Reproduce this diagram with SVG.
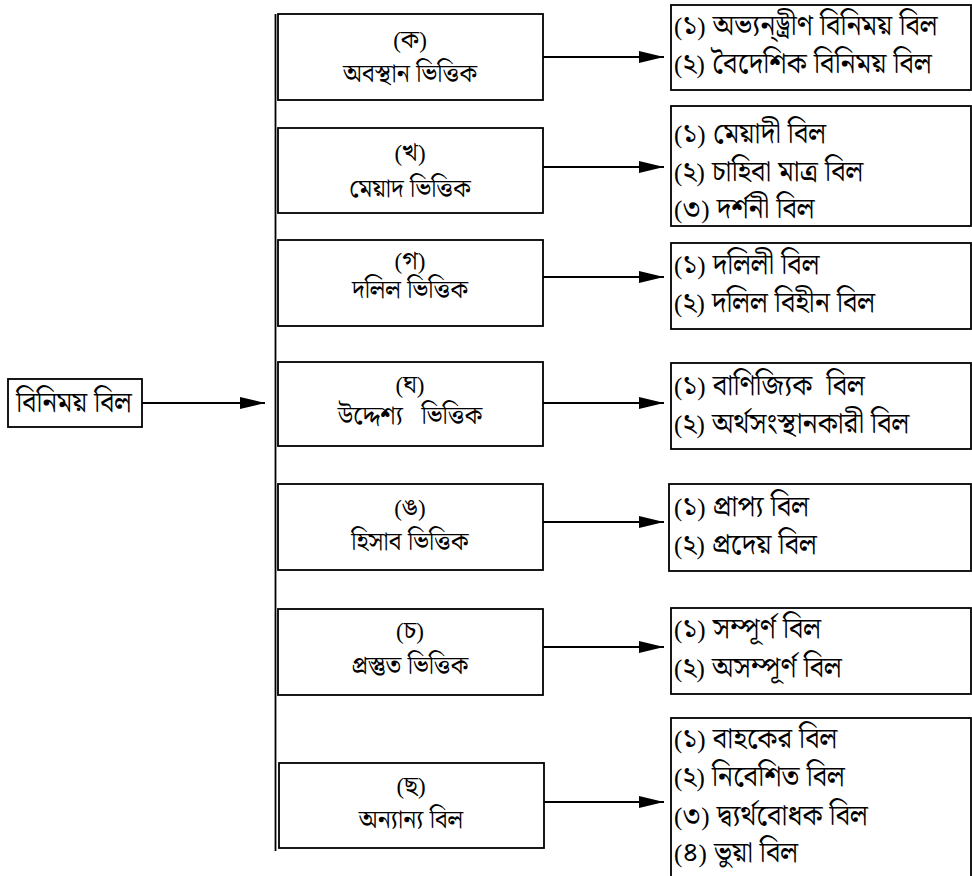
<svg xmlns="http://www.w3.org/2000/svg" width="972" height="876" viewBox="0 0 972 876">
<style>
.box{fill:#fff;stroke:#000;stroke-width:1.8}
.ln{stroke:#000;stroke-width:1.8;fill:none}
.t{font-family:"Liberation Serif","Noto Serif Bengali","Noto Sans Bengali","Lohit Bengali",serif;fill:#000}
.c{font-size:25px;text-anchor:middle}
.h{font-size:26px;text-anchor:middle}
.q{font-size:23px}
.r{font-size:28.5px}
.p{font-size:25px}
.l{font-size:28px;text-anchor:middle}
</style>
<defs>
<marker id="ah" markerUnits="userSpaceOnUse" markerWidth="26" markerHeight="12" refX="25" refY="6" orient="auto">
<path d="M0,0 L25,6 L0,12 z" fill="#000"/>
</marker>
</defs>
<rect width="972" height="876" fill="#fff"/>
<g id="connectors">
<line class="ln" x1="275.5" y1="14" x2="275.5" y2="851" stroke-width="2.4"/>
<line class="ln" x1="142" y1="403" x2="265" y2="403" marker-end="url(#ah)"/>
<line class="ln" x1="543" y1="57" x2="664" y2="57" marker-end="url(#ah)"/>
<line class="ln" x1="543" y1="167" x2="664" y2="167" marker-end="url(#ah)"/>
<line class="ln" x1="543" y1="277" x2="664" y2="277" marker-end="url(#ah)"/>
<line class="ln" x1="543" y1="403" x2="664" y2="403" marker-end="url(#ah)"/>
<line class="ln" x1="543" y1="522" x2="664" y2="522" marker-end="url(#ah)"/>
<line class="ln" x1="543" y1="647" x2="664" y2="647" marker-end="url(#ah)"/>
<line class="ln" x1="544" y1="802" x2="664" y2="802" marker-end="url(#ah)"/>
</g>
<g id="root">
<rect class="box" x="8" y="379" width="134" height="48"/>
<text class="t l" x="74" y="412">বিনিময় বিল</text>
</g>
<g id="k">
<rect class="box" x="278" y="14" width="265" height="86"/>
<text class="t h" x="410" y="48"><tspan class="q">(</tspan>ক<tspan class="q">)</tspan></text>
<text class="t c" x="410" y="82">অবস্থান ভিত্তিক</text>
</g>
<g id="kh">
<rect class="box" x="278" y="128" width="265" height="85"/>
<text class="t h" x="410" y="161"><tspan class="q">(</tspan>খ<tspan class="q">)</tspan></text>
<text class="t c" x="410" y="197">মেয়াদ ভিত্তিক</text>
</g>
<g id="g">
<rect class="box" x="278" y="240" width="265" height="86"/>
<text class="t h" x="410" y="269"><tspan class="q">(</tspan>গ<tspan class="q">)</tspan></text>
<text class="t c" x="410" y="298">দলিল ভিত্তিক</text>
</g>
<g id="gh">
<rect class="box" x="278" y="362" width="265" height="84"/>
<text class="t h" x="410" y="393"><tspan class="q">(</tspan>ঘ<tspan class="q">)</tspan></text>
<text class="t c" x="410" y="424" xml:space="preserve">উদ্দেশ্য   ভিত্তিক</text>
</g>
<g id="ng">
<rect class="box" x="278" y="484" width="265" height="86"/>
<text class="t h" x="410" y="516"><tspan class="q">(</tspan>ঙ<tspan class="q">)</tspan></text>
<text class="t c" x="410" y="550">হিসাব ভিত্তিক</text>
</g>
<g id="ch">
<rect class="box" x="278" y="609" width="265" height="86"/>
<text class="t h" x="410" y="639"><tspan class="q">(</tspan>চ<tspan class="q">)</tspan></text>
<text class="t c" x="410" y="674">প্রস্তুত ভিত্তিক</text>
</g>
<g id="chh">
<rect class="box" x="279" y="763" width="265" height="85"/>
<text class="t h" x="411" y="794"><tspan class="q">(</tspan>ছ<tspan class="q">)</tspan></text>
<text class="t c" x="411" y="828">অন্যান্য বিল</text>
</g>
<g id="rk">
<rect class="box" x="671" y="5" width="300" height="85"/>
<text class="t r" x="674" y="35"><tspan class="p">(</tspan>১<tspan class="p">)</tspan> অভ্যন্ড়্রীণ বিনিময় বিল</text>
<text class="t r" x="674" y="73"><tspan class="p">(</tspan>২<tspan class="p">)</tspan> বৈদেশিক বিনিময় বিল</text>
</g>
<g id="rkh">
<rect class="box" x="671" y="106" width="300" height="120"/>
<text class="t r" x="674" y="143"><tspan class="p">(</tspan>১<tspan class="p">)</tspan> মেয়াদী বিল</text>
<text class="t r" x="674" y="181"><tspan class="p">(</tspan>২<tspan class="p">)</tspan> চাহিবা মাত্র বিল</text>
<text class="t r" x="674" y="218"><tspan class="p">(</tspan>৩<tspan class="p">)</tspan> দর্শনী বিল</text>
</g>
<g id="rg">
<rect class="box" x="671" y="243" width="300" height="86"/>
<text class="t r" x="674" y="274"><tspan class="p">(</tspan>১<tspan class="p">)</tspan> দলিলী বিল</text>
<text class="t r" x="674" y="312"><tspan class="p">(</tspan>২<tspan class="p">)</tspan> দলিল বিহীন বিল</text>
</g>
<g id="rgh">
<rect class="box" x="671" y="363" width="300" height="86"/>
<text class="t r" x="674" y="395" xml:space="preserve"><tspan class="p">(</tspan>১<tspan class="p">)</tspan> বাণিজ্যিক  বিল</text>
<text class="t r" x="674" y="433"><tspan class="p">(</tspan>২<tspan class="p">)</tspan> অর্থসংস্থানকারী বিল</text>
</g>
<g id="rng">
<rect class="box" x="669" y="484" width="302" height="87"/>
<text class="t r" x="674" y="516"><tspan class="p">(</tspan>১<tspan class="p">)</tspan> প্রাপ্য বিল</text>
<text class="t r" x="674" y="554"><tspan class="p">(</tspan>২<tspan class="p">)</tspan> প্রদেয় বিল</text>
</g>
<g id="rch">
<rect class="box" x="671" y="608" width="300" height="86"/>
<text class="t r" x="674" y="638"><tspan class="p">(</tspan>১<tspan class="p">)</tspan> সম্পূর্ণ বিল</text>
<text class="t r" x="674" y="677"><tspan class="p">(</tspan>২<tspan class="p">)</tspan> অসম্পূর্ণ বিল</text>
</g>
<g id="rchh">
<rect class="box" x="671" y="718" width="300" height="170"/>
<text class="t r" x="674" y="748"><tspan class="p">(</tspan>১<tspan class="p">)</tspan> বাহকের বিল</text>
<text class="t r" x="674" y="786"><tspan class="p">(</tspan>২<tspan class="p">)</tspan> নিবেশিত বিল</text>
<text class="t r" x="674" y="825"><tspan class="p">(</tspan>৩<tspan class="p">)</tspan> দ্ব্যর্থবোধক বিল</text>
<text class="t r" x="674" y="862"><tspan class="p">(</tspan>৪<tspan class="p">)</tspan> ভুয়া বিল</text>
</g>
</svg>
